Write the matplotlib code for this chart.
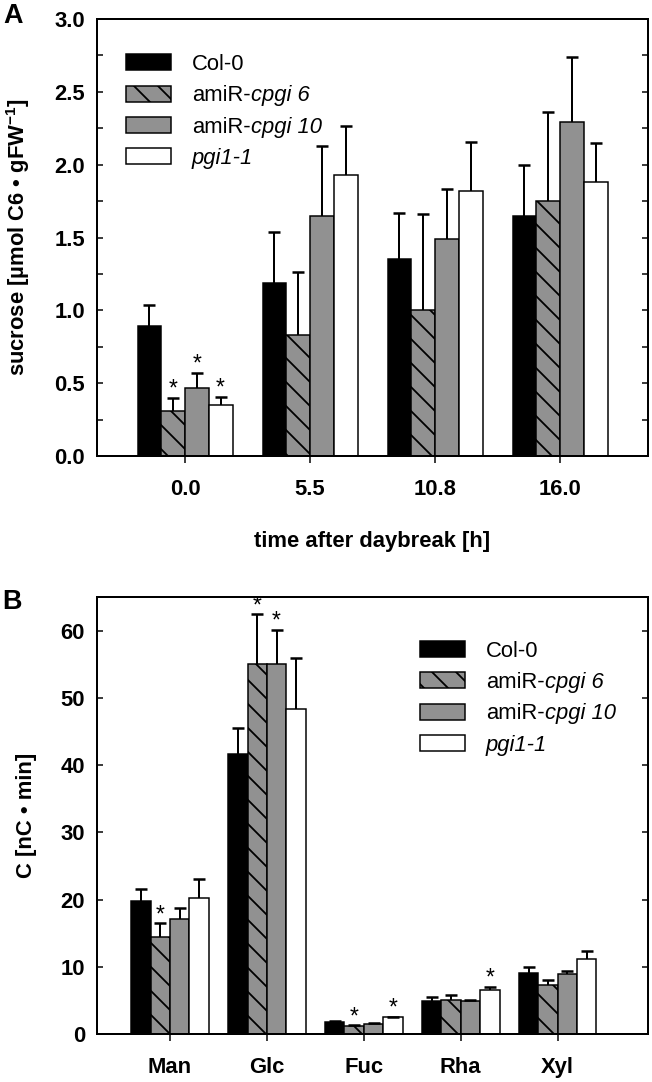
import numpy as np
import matplotlib
matplotlib.use("Agg")
import matplotlib.pyplot as plt
from matplotlib.ticker import MultipleLocator, FormatStrFormatter

plt.rcParams["font.family"] = ["Liberation Sans", "DejaVu Sans"]
plt.rcParams["font.weight"] = "bold"
plt.rcParams["axes.labelweight"] = "bold"
plt.rcParams["mathtext.fontset"] = "custom"
plt.rcParams["mathtext.rm"] = "Liberation Sans:bold"
plt.rcParams["mathtext.it"] = "Liberation Sans:italic"
plt.rcParams["mathtext.bf"] = "Liberation Sans:bold"
plt.rcParams["hatch.linewidth"] = 1.8

# --- data -------------------------------------------------------------
# legend text: upright part / italic part
label_roman = ["Col-0", "amiR-", "amiR-", ""]
label_italic = ["", "cpgi 6", "cpgi 10", "pgi1-1"]

# panel A: sucrose, mean and top of error bar
times = ["0.0", "5.5", "10.8", "16.0"]
suc_col0 = [0.89, 1.19, 1.35, 1.65]
suc_col0_top = [1.04, 1.54, 1.67, 2.00]
suc_cpgi6 = [0.31, 0.83, 1.00, 1.75]
suc_cpgi6_top = [0.40, 1.26, 1.66, 2.36]
suc_cpgi10 = [0.47, 1.65, 1.49, 2.29]
suc_cpgi10_top = [0.57, 2.13, 1.835, 2.74]
suc_pgi1 = [0.35, 1.93, 1.82, 1.88]
suc_pgi1_top = [0.405, 2.265, 2.155, 2.15]
suc_sig = [[0, 0, 0, 0], [1, 0, 0, 0], [1, 0, 0, 0], [1, 0, 0, 0]]

# panel B: cell wall sugars
sugars = ["Man", "Glc", "Fuc", "Rha", "Xyl"]
cw_col0 = [19.8, 41.6, 1.8, 4.9, 9.1]
cw_col0_top = [21.5, 45.5, 1.9, 5.5, 9.9]
cw_cpgi6 = [14.4, 55.0, 1.2, 5.0, 7.3]
cw_cpgi6_top = [16.5, 62.4, 1.3, 5.8, 8.1]
cw_cpgi10 = [17.1, 55.0, 1.5, 4.9, 8.9]
cw_cpgi10_top = [18.8, 60.1, 1.6, 5.1, 9.4]
cw_pgi1 = [20.3, 48.3, 2.5, 6.5, 11.1]
cw_pgi1_top = [23.1, 55.9, 2.6, 7.0, 12.3]
cw_sig = [[0, 0, 0, 0, 0], [1, 1, 1, 0, 0], [0, 1, 0, 0, 0], [0, 0, 1, 1, 0]]

# --- style --------------------------------------------------------------
fills = ["black", "#919191", "#919191", "white"]
hatches = [None, "\\", None, None]
FS = 22
W, H = 652, 1082


def draw_panel(ax, groups, series, tops, sigs, width):
    x = np.arange(len(groups))
    handles = []
    for k, (vals, up, sig) in enumerate(zip(series, tops, sigs)):
        vals = np.asarray(vals, dtype=float)
        up = np.asarray(up, dtype=float)
        pos = x + (k - 1.5) * width
        b = ax.bar(pos, vals, width, color=fills[k], edgecolor="black",
                   linewidth=1.5, hatch=hatches[k], zorder=2)
        handles.append(b)
        _, caps, _ = ax.errorbar(pos, vals, yerr=[np.zeros_like(vals), up - vals],
                                 fmt="none", ecolor="black", elinewidth=2,
                                 capsize=6, capthick=2.5, zorder=3)
        caps[0].set_visible(False)  # only the upper cap
        for p, t, s in zip(pos, up, sig):
            if s:
                ax.annotate("*", xy=(p, t), xytext=(0, 2), textcoords="offset points",
                            ha="center", va="baseline", fontsize=23, fontweight="normal")
    ax.set_xticks(x)
    ax.set_xticklabels(groups)
    return handles


def style_axes(ax):
    for s in ax.spines.values():
        s.set_linewidth(2)
    ax.tick_params(axis="y", which="both", direction="in", left=True, right=True,
                   labelright=False, length=6, width=1.5, pad=12, labelsize=FS)
    ax.tick_params(axis="x", which="both", direction="out", length=7, width=1.5,
                   pad=16, labelsize=FS, top=False)
    for lab in ax.get_xticklabels() + ax.get_yticklabels():
        lab.set_fontweight("bold")


def add_legend(ax, handles, anchor):
    labels = [r if r else i for r, i in zip(label_roman, label_italic)]
    leg = ax.legend(handles, labels, loc="upper left", bbox_to_anchor=anchor,
                    frameon=False, fontsize=FS, handlelength=2.05, handleheight=0.73,
                    handletextpad=0.95, labelspacing=0.47, borderpad=0, borderaxespad=0)
    for txt, r in zip(leg.get_texts(), label_roman):
        txt.set_fontweight("normal")
        if not r:
            txt.set_fontstyle("italic")
    return leg


def add_italic_parts(fig, leg):
    # italic continuation after "amiR-", placed once the legend is laid out
    for txt, r, i in zip(leg.get_texts(), label_roman, label_italic):
        if r and i:
            bb = txt.get_window_extent()
            fig.text(bb.x1 / W, bb.y0 / H, i, ha="left", va="bottom",
                     fontsize=FS, fontstyle="italic", fontweight="normal")


fig = plt.figure(figsize=(W / 72, H / 72), dpi=72)
axA = fig.add_axes([97 / W, (H - 456) / H, 551 / W, 437 / H])
axB = fig.add_axes([97 / W, (H - 1034) / H, 551 / W, 437 / H])

# panel A
hA = draw_panel(axA, times, [suc_col0, suc_cpgi6, suc_cpgi10, suc_pgi1],
                [suc_col0_top, suc_cpgi6_top, suc_cpgi10_top, suc_pgi1_top], suc_sig, 0.19)
axA.set_xlim(-0.704, 3.704)
axA.set_ylim(0, 3.0)
axA.yaxis.set_major_locator(MultipleLocator(0.5))
axA.yaxis.set_minor_locator(MultipleLocator(0.25))
axA.yaxis.set_major_formatter(FormatStrFormatter("%.1f"))
style_axes(axA)
axA.set_ylabel(r"sucrose [µmol C6 • gFW$^{\mathbf{-1}}$]", fontsize=FS,
               fontweight="bold", va="baseline")
axA.yaxis.set_label_coords(-0.1307, 0.5)
axA.set_xlabel("time after daybreak [h]", fontsize=FS, fontweight="bold", va="baseline")
axA.xaxis.set_label_coords(0.5, -0.208)
legA = add_legend(axA, hA, (0.0526, 0.92))

# panel B
hB = draw_panel(axB, sugars, [cw_col0, cw_cpgi6, cw_cpgi10, cw_pgi1],
                [cw_col0_top, cw_cpgi6_top, cw_cpgi10_top, cw_pgi1_top], cw_sig, 0.2)
axB.set_xlim(-0.753, 4.932)
axB.set_ylim(0, 65)
axB.yaxis.set_major_locator(MultipleLocator(10))
style_axes(axB)
axB.set_ylabel("C [nC • min]", fontsize=FS, fontweight="bold", va="baseline")
axB.yaxis.set_label_coords(-0.118, 0.5)
legB = add_legend(axB, hB, (0.586, 0.9))

fig.text(3 / W, 1 - 16 / H, "A", fontsize=27, fontweight="bold", ha="left", va="center")
fig.text(2 / W, 1 - 602 / H, "B", fontsize=27, fontweight="bold", ha="left", va="center")

fig.canvas.draw()
add_italic_parts(fig, legA)
add_italic_parts(fig, legB)

fig.savefig("out.png", dpi=72)
